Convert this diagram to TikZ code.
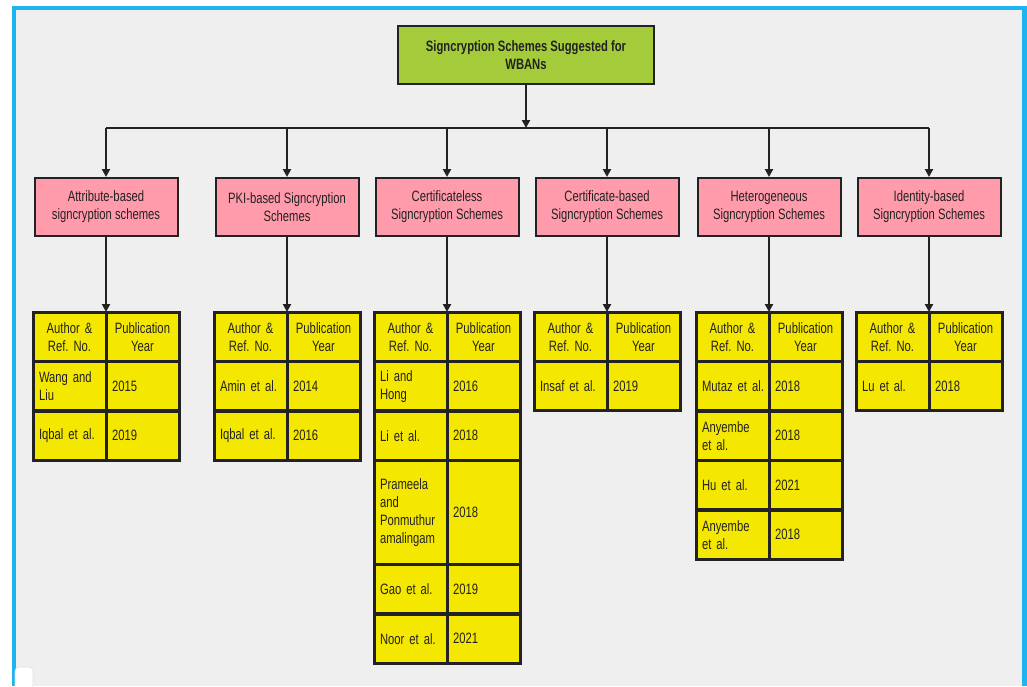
\documentclass[tikz,border=0pt]{standalone}
\usepackage{fontspec}
\setmainfont[FakeStretch=0.75]{Liberation Sans}
\usetikzlibrary{arrows.meta}

\definecolor{framec}{HTML}{1EB4F0}
\definecolor{bgc}{HTML}{EFEFEF}
\definecolor{linec}{HTML}{222222}
\definecolor{textc}{HTML}{222222}
\definecolor{rootc}{HTML}{A4CC3A}
\definecolor{catc}{HTML}{FF9BAA}
\definecolor{cellc}{HTML}{F5E800}

\newcommand\boxfont{\fontsize{11.25}{13.5}\selectfont\frenchspacing}

\tikzset{
  conn/.style={draw=linec, line width=1.5pt},
  arr/.style={conn, -{Triangle[length=6pt,width=6pt]}},
  rootbox/.style={draw=linec, line width=1.5pt, fill=rootc, minimum width=192pt,
    minimum height=43.5pt, align=center, font=\boxfont\bfseries, text=textc},
  catbox/.style={draw=linec, line width=1.5pt, fill=catc, minimum width=107.25pt,
    minimum height=43.5pt, align=center, text=textc},
  cell/.style={draw=linec, line width=2.25pt, fill=cellc, anchor=north west, outer sep=0pt,
    inner xsep=4.5pt, inner ysep=0pt, text width=45.75pt, minimum height=37.1pt, text=textc},
  headcell/.style={cell, align=center},
  datacell/.style={cell, align=left},
  tallcell/.style={datacell, minimum height=78pt}
}

\begin{document}
\begin{tikzpicture}[x=0.75pt, y=-0.75pt, font=\boxfont]
  % Boundary
  \useasboundingbox (0,0) rectangle (1027,686);
  \fill[white] (0,0) rectangle (1027,686);
  \fill[framec] (12,6) rectangle (1027,686);
  \fill[bgc] (16,10) rectangle (1022,686);
  \filldraw[fill=white, draw=black!12, rounded corners=3] (15,667) rectangle (33,690);

  % Root and categories
  \node[rootbox] (root) at (526,55) {Signcryption Schemes Suggested for\\WBANs};
  \coordinate (bus) at (526,128);
  \node[catbox] (att) at (106,207) {Attribute-based\\signcryption schemes};
  \node[catbox] (pki) at (287,207) {PKI-based Signcryption\\Schemes};
  \node[catbox] (cls) at (447,207) {Certificateless\\Signcryption Schemes};
  \node[catbox] (cbs) at (607,207) {Certificate-based\\Signcryption Schemes};
  \node[catbox] (het) at (769,207) {Heterogeneous\\Signcryption Schemes};
  \node[catbox] (ibs) at (929,207) {Identity-based\\Signcryption Schemes};

  % Bus
  \draw[arr] (root) -- (bus);
  \draw[conn] (att.north |- bus) -- (ibs.north |- bus);
  \foreach \c in {att,pki,cls,cbs,het,ibs}
    \draw[arr] (\c.north |- bus) -- (\c);

  % Tables
  \begin{scope}[shift={(106,312)}]
    \node[headcell] (att-ha) at (-73,0) {Author \&\\Ref. No.};
    \node[headcell] (att-hb) at (0,0) {Publication\\Year};
    \node[datacell] (att-1a) at (-73,49.5) {Wang and\\Liu};
    \node[datacell] (att-1b) at (0,49.5) {2015};
    \node[datacell] (att-2a) at (-73,99) {Iqbal et al.};
    \node[datacell] (att-2b) at (0,99) {2019};
  \end{scope}
  \begin{scope}[shift={(287,312)}]
    \node[headcell] (pki-ha) at (-73,0) {Author \&\\Ref. No.};
    \node[headcell] (pki-hb) at (0,0) {Publication\\Year};
    \node[datacell] (pki-1a) at (-73,49.5) {Amin et al.};
    \node[datacell] (pki-1b) at (0,49.5) {2014};
    \node[datacell] (pki-2a) at (-73,99) {Iqbal et al.};
    \node[datacell] (pki-2b) at (0,99) {2016};
  \end{scope}
  \begin{scope}[shift={(447,312)}]
    \node[headcell] (cls-ha) at (-73,0) {Author \&\\Ref. No.};
    \node[headcell] (cls-hb) at (0,0) {Publication\\Year};
    \node[datacell] (cls-1a) at (-73,49.5) {Li and\\Hong};
    \node[datacell] (cls-1b) at (0,49.5) {2016};
    \node[datacell] (cls-2a) at (-73,99) {Li et al.};
    \node[datacell] (cls-2b) at (0,99) {2018};
    \node[tallcell] (cls-3a) at (-73,148.5) {Prameela\\and\\Ponmuthur\\amalingam};
    \node[tallcell] (cls-3b) at (0,148.5) {2018};
    \node[datacell] (cls-4a) at (-73,252.5) {Gao et al.};
    \node[datacell] (cls-4b) at (0,252.5) {2019};
    \node[datacell] (cls-5a) at (-73,302) {Noor et al.};
    \node[datacell] (cls-5b) at (0,302) {2021};
  \end{scope}
  \begin{scope}[shift={(607,312)}]
    \node[headcell] (cbs-ha) at (-73,0) {Author \&\\Ref. No.};
    \node[headcell] (cbs-hb) at (0,0) {Publication\\Year};
    \node[datacell] (cbs-1a) at (-73,49.5) {Insaf et al.};
    \node[datacell] (cbs-1b) at (0,49.5) {2019};
  \end{scope}
  \begin{scope}[shift={(769,312)}]
    \node[headcell] (het-ha) at (-73,0) {Author \&\\Ref. No.};
    \node[headcell] (het-hb) at (0,0) {Publication\\Year};
    \node[datacell] (het-1a) at (-73,49.5) {\mbox{Mutaz et al.}};
    \node[datacell] (het-1b) at (0,49.5) {2018};
    \node[datacell] (het-2a) at (-73,99) {Anyembe\\et al.};
    \node[datacell] (het-2b) at (0,99) {2018};
    \node[datacell] (het-3a) at (-73,148.5) {Hu et al.};
    \node[datacell] (het-3b) at (0,148.5) {2021};
    \node[datacell] (het-4a) at (-73,198) {Anyembe\\et al.};
    \node[datacell] (het-4b) at (0,198) {2018};
  \end{scope}
  \begin{scope}[shift={(929,312)}]
    \node[headcell] (ibs-ha) at (-73,0) {Author \&\\Ref. No.};
    \node[headcell] (ibs-hb) at (0,0) {Publication\\Year};
    \node[datacell] (ibs-1a) at (-73,49.5) {Lu et al.};
    \node[datacell] (ibs-1b) at (0,49.5) {2018};
  \end{scope}

  % Category to table
  \foreach \c in {att,pki,cls,cbs,het,ibs}
    \draw[arr] (\c) -- (\c-ha.north east);
\end{tikzpicture}
\end{document}
